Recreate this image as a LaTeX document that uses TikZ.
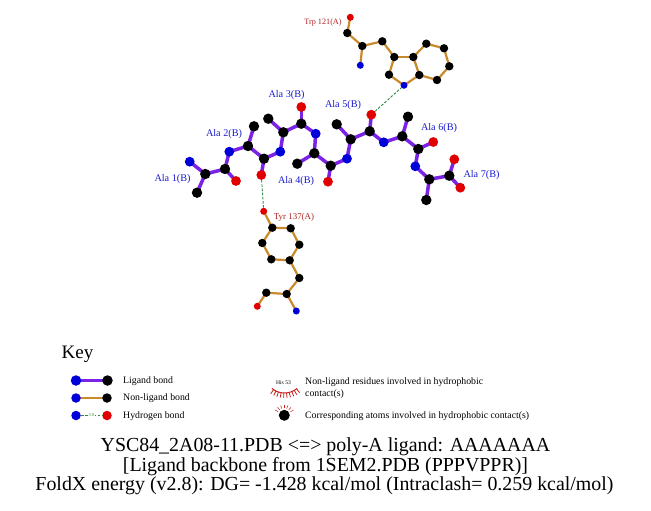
\documentclass[tikz,border=0pt]{standalone}
\usepackage{fontspec}
\setmainfont{Liberation Serif}
\usetikzlibrary{backgrounds}
\definecolor{ligbond}{HTML}{7A22E6}
\definecolor{nonlig}{HTML}{C98A2B}
\definecolor{atomblue}{HTML}{0000D8}
\definecolor{atomred}{HTML}{E00000}
\definecolor{hbond}{HTML}{2E8B3A}
\definecolor{reslabel}{HTML}{B02020}
\definecolor{liglabel}{HTML}{1A1AD0}
\definecolor{spokered}{HTML}{C82020}
\tikzset{
  atombase/.style={circle,inner sep=0pt,draw=none,minimum size=#1},
  C/.style={atombase=10.4,fill=black},
  N/.style={atombase=9.8,fill=atomblue},
  O/.style={atombase=9.8,fill=atomred},
  Cs/.style={atombase=8.4,fill=black},
  Ns/.style={atombase=7,fill=atomblue},
  Os/.style={atombase=7,fill=atomred},
  ligb/.style={draw=ligbond,line width=3.5},
  nonb/.style={draw=nonlig,line width=2.2},
  hb/.style={draw=hbond,line width=0.9,dash pattern=on 2.6 off 1.6},
  liglab/.style={text=liglabel,font=\fontsize{10.2}{12}\selectfont,inner sep=0pt},
  reslab/.style={text=reslabel,font=\fontsize{8.2}{10}\selectfont,inner sep=0pt},
  keytxt/.style={anchor=west,inner sep=0pt,text=black,font=\fontsize{9.8}{11.5}\selectfont},
  titletxt/.style={inner sep=0pt,font=\fontsize{19.9}{22}\selectfont},
  spoke/.style={draw=spokered,line width=0.7},
}
\begin{document}
\begin{tikzpicture}[x=1pt,y=-1pt]
\useasboundingbox (0,0) rectangle (651,511);
% ligand atoms
\foreach \n/\s/\x/\y in {
 n1/N/189.7/161.7, ca1/C/205.3/174, cb1/C/197/192.7, c1/C/225/169, o1/O/236/181,
 n2/N/229.3/151.7, ca2/C/248/146, cb2/C/254/126.3, c2/C/264/158.7, o2/O/261.3/175,
 n3/N/280.3/151.7, ca3/C/283.3/132.3, cb3/C/268.3/118.7, c3/C/301.3/123.7, o3/O/301.3/107,
 n4/N/315.7/133.7, ca4/C/314.3/153.3, cb4/C/297.3/163.7, c4/C/330.7/165.7, o4/O/328/181.7,
 n5/N/347/158.7, ca5/C/350.7/139.3, cb5/C/336.7/124.3, c5/C/369.7/131.3, o5/O/371.3/114.7,
 n6/N/383.7/142.3, ca6/C/402.3/136.3, cb6/C/408/116.7, c6/C/418.3/149, o6/O/433.3/142,
 n7/N/415.3/166.3, ca7/C/429.3/179.3, cb7/C/426.3/200, c7/C/449.3/175.7, oa/O/454.3/159.3, ob/O/460.3/187.7,
 to/Os/350.3/17.3, tc/Cs/347.3/33, tca/Cs/362.3/46, tn/Ns/360.3/65.3, tcb/Cs/382.3/41.3,
 tcg/Cs/394.3/57, tcd/Cs/389/74.7, tne/Ns/404/85.3, tce/Cs/419.3/75, tcf/Cs/413.3/57,
 tch/Cs/426.3/43.7, tci/Cs/444/48.3, tcj/Cs/449.3/66.3, tck/Cs/437/80,
 yoh/Os/263.7/211.3, yz/Cs/272.3/227.7, ye/Cs/290.7/228.3, yd/Cs/299.3/244.7, yg/Cs/289.7/260.3,
 yf/Cs/271.3/259.3, yh/Cs/262.3/243, yb/Cs/299.3/278, ya/Cs/286.7/294, yn/Ns/296.3/311,
 yc/Cs/266.3/292.7, yo/Os/257.3/306.3}
 {\node[\s] (\n) at (\x,\y) {};}
\begin{scope}[on background layer]
\foreach \a/\b in {n1/ca1,ca1/cb1,ca1/c1,c1/o1,c1/n2,n2/ca2,ca2/cb2,ca2/c2,c2/o2,c2/n3,n3/ca3,ca3/cb3,ca3/c3,c3/o3,c3/n4,n4/ca4,ca4/cb4,ca4/c4,c4/o4,c4/n5,n5/ca5,ca5/cb5,ca5/c5,c5/o5,c5/n6,n6/ca6,ca6/cb6,ca6/c6,c6/o6,c6/n7,n7/ca7,ca7/cb7,ca7/c7,c7/oa,c7/ob}
 {\draw[ligb] (\a.center) -- (\b.center);}
\foreach \a/\b in {to/tc,tc/tca,tca/tn,tca/tcb,tcb/tcg,tcg/tcd,tcd/tne,tne/tce,tce/tcf,tcf/tcg,tcf/tch,tch/tci,tci/tcj,tcj/tck,tck/tce,
 yoh/yz,yz/ye,ye/yd,yd/yg,yg/yf,yf/yh,yh/yz,yg/yb,yb/ya,ya/yn,ya/yc,yc/yo}
 {\draw[nonb] (\a.center) -- (\b.center);}
\end{scope}
\draw[hb] (o2) -- (yoh);
\draw[hb] (o5) -- (tne);
% residue labels
\node[liglab] (l1) at (172.5,179) {Ala 1(B)};
\node[liglab] (l2) at (224,134) {Ala 2(B)};
\node[liglab] (l3) at (286.5,95) {Ala 3(B)};
\node[liglab] (l4) at (296,181) {Ala 4(B)};
\node[liglab] (l5) at (343,105) {Ala 5(B)};
\node[liglab] (l6) at (439,128) {Ala 6(B)};
\node[liglab] (l7) at (481.5,175) {Ala 7(B)};
\node[reslab] (lt) at (323,23) {Trp 121(A)};
\node[reslab,font=\fontsize{8.9}{10}\selectfont] (ly) at (294,217) {Tyr 137(A)};
% key
\node[anchor=west,inner sep=0pt,font=\fontsize{19}{21}\selectfont] (key) at (61.5,354) {Key};
\node[atombase=10.5,fill=atomblue] (k1a) at (76,380.5) {};
\node[atombase=10.5,fill=black] (k1b) at (107.5,380.5) {};
\node[atombase=9.5,fill=atomblue] (k2a) at (76,398) {};
\node[atombase=9.5,fill=black] (k2b) at (107,398) {};
\node[atombase=9.5,fill=atomblue] (k3a) at (76,415.5) {};
\node[atombase=9.5,fill=atomred] (k3b) at (107,415.5) {};
\begin{scope}[on background layer]
\draw[ligb,line width=3.8] (k1a.center) -- (k1b.center);
\draw[nonb] (k2a.center) -- (k2b.center);
\end{scope}
\draw[hb,line width=1] (k3a) -- (k3b);
\node[inner sep=0.6pt,fill=white,text=hbond,font=\fontsize{4.5}{5}\selectfont] (k3t) at (91.5,415.5) {3.0};
\node[keytxt] (t1) at (123,381) {Ligand bond};
\node[keytxt] (t2) at (123,398.5) {Non-ligand bond};
\node[keytxt] (t3) at (123,416) {Hydrogen bond};
% hydrophobic key
\node[inner sep=0pt,font=\fontsize{5.6}{6}\selectfont] (his) at (283.5,383) {His 53};
\coordinate (hc) at (284.5,373.4);
\draw[spoke,line width=1] (hc) ++(130:19.6) arc[start angle=130,end angle=50,radius=19.6];
\foreach \ang in {52,60,68,76,84,92,100,108,116,124}
  {\draw[spoke,line width=0.8] (hc) ++(\ang:19.6) -- ++(\ang:5);}
\node[atombase=11,fill=black] (hat) at (284.3,415.3) {};
\foreach \ang in {-150,-130,-110,-90,-70,-50,-30}
  {\draw[spoke,line width=0.5] (hat.center) ++(\ang:7) -- ++(\ang:3.5);}
\node[keytxt,anchor=north west,align=left,font=\fontsize{9.8}{11.5}\selectfont] (t4) at (305,377.5) {Non-ligand residues involved in hydrophobic\\contact(s)};
\node[keytxt,font=\fontsize{9.8}{11.5}\selectfont] (t5) at (305,416) {Corresponding atoms involved in hydrophobic contact(s)};
% title
\node[titletxt] (tl1) at (325.5,447) {YSC84\_2A08-11.PDB <=> poly-A ligand: AAAAAAA};
\node[titletxt] (tl2) at (325.5,466.5) {[Ligand backbone from 1SEM2.PDB (PPPVPPR)]};
\node[titletxt] (tl3) at (324.5,486) {FoldX energy (v2.8): DG= -1.428 kcal/mol (Intraclash= 0.259 kcal/mol)};
\end{tikzpicture}
\end{document}
